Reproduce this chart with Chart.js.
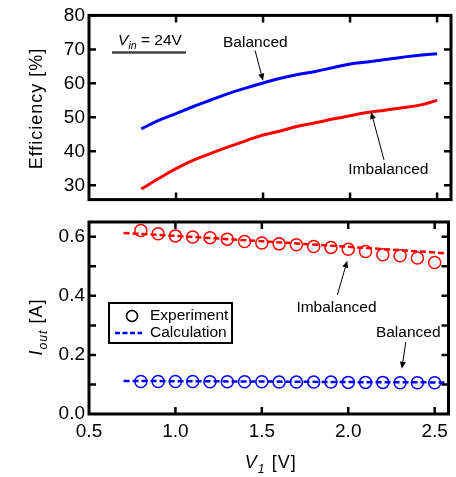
<!DOCTYPE html>
<html>
<head>
<meta charset="utf-8">
<script src="https://cdn.jsdelivr.net/npm/chart.js@4.4.1/dist/chart.umd.min.js"></script>
<style>
body { margin: 0; background: #fff; }
#wrap { position: relative; width: 456px; height: 477px; }
canvas { position: absolute; left: 0; }
#effChart { top: 0; }
#ioutChart { top: 200px; }
</style>
</head>
<body>
<div id="wrap">
  <canvas id="effChart" width="456" height="215"></canvas>
  <canvas id="ioutChart" width="456" height="277"></canvas>
</div>
<script>
// Measured points, V1 in volts
const v1 = [0.8, 0.9, 1.0, 1.1, 1.2, 1.3, 1.4, 1.5, 1.6, 1.7, 1.8, 1.9, 2.0, 2.1, 2.2, 2.3, 2.4, 2.5];
const effBalanced = [46.6, 49.1, 51.1, 53.2, 55.1, 57.0, 58.6, 60.1, 61.5, 62.6, 63.5, 64.6, 65.7, 66.3, 67.0, 67.7, 68.3, 68.7];
const effImbalanced = [28.9, 32.0, 34.9, 37.4, 39.4, 41.3, 43.1, 44.8, 46.0, 47.4, 48.4, 49.5, 50.5, 51.4, 52.1, 52.8, 53.6, 55.0];
const ioutExpImbalanced = [0.621, 0.610, 0.603, 0.599, 0.597, 0.592, 0.584, 0.579, 0.576, 0.573, 0.567, 0.564, 0.558, 0.550, 0.539, 0.536, 0.528, 0.513];
const ioutExpBalanced = [0.110, 0.110, 0.110, 0.110, 0.109, 0.109, 0.109, 0.109, 0.108, 0.108, 0.108, 0.108, 0.107, 0.107, 0.107, 0.106, 0.106, 0.106];

// Calculated curves
const calcV1 = [0.7, 1.0, 1.5, 2.0, 2.5, 2.6];
const ioutCalcImbalanced = [0.613, 0.603, 0.585, 0.566, 0.547, 0.542];
const ioutCalcBalanced = [0.112, 0.111, 0.110, 0.108, 0.107, 0.106];

// Axes
const xTicks = [0.5, 1.0, 1.5, 2.0, 2.5];
const xMarks = [1.0, 1.5, 2.0, 2.5];
const effTicks = [30, 40, 50, 60, 70, 80];
const ioutTicks = [0.0, 0.2, 0.4, 0.6];
const ioutMarks = [0.1, 0.2, 0.3, 0.4, 0.5, 0.6];

const FONT = '"Liberation Sans", Arial, sans-serif';
Chart.defaults.font.family = FONT;
Chart.defaults.color = '#000';

const pts = (xs, ys) => xs.map((x, i) => ({ x, y: ys[i] }));

// draw text made of plain / italic / subscript pieces
function richWidth(ctx, parts, size) {
  let w = 0;
  parts.forEach(p => {
    ctx.font = (p.it ? 'italic ' : '') + (p.sub ? size * 0.68 : size) + 'px ' + FONT;
    w += ctx.measureText(p.t).width;
  });
  return w;
}
function drawRich(ctx, parts, x, y, size) {
  parts.forEach(p => {
    ctx.font = (p.it ? 'italic ' : '') + (p.sub ? size * 0.68 : size) + 'px ' + FONT;
    ctx.fillText(p.t, x, y + (p.sub ? size * 0.28 : 0));
    x += ctx.measureText(p.t).width;
  });
}

function arrow(ctx, x1, y1, x2, y2) {
  const ang = Math.atan2(y2 - y1, x2 - x1);
  const hl = 7, hw = 3;
  ctx.beginPath();
  ctx.moveTo(x1, y1);
  ctx.lineTo(x2 - hl * Math.cos(ang), y2 - hl * Math.sin(ang));
  ctx.stroke();
  ctx.beginPath();
  ctx.moveTo(x2, y2);
  ctx.lineTo(x2 - hl * Math.cos(ang) + hw * Math.sin(ang), y2 - hl * Math.sin(ang) - hw * Math.cos(ang));
  ctx.lineTo(x2 - hl * Math.cos(ang) - hw * Math.sin(ang), y2 - hl * Math.sin(ang) + hw * Math.cos(ang));
  ctx.closePath();
  ctx.fill();
}

// frame, inward ticks, axis titles, labels, arrows, legend
const framePlugin = {
  id: 'frame',
  afterDraw(chart, args, opts) {
    const { ctx, chartArea: a, scales: { x, y } } = chart;
    ctx.save();
    ctx.strokeStyle = '#000';
    ctx.fillStyle = '#000';

    ctx.lineWidth = 2.5;
    ctx.beginPath();
    opts.xMarks.forEach(v => {
      const px = x.getPixelForValue(v);
      ctx.moveTo(px, a.bottom); ctx.lineTo(px, a.bottom - 7);
      ctx.moveTo(px, a.top); ctx.lineTo(px, a.top + 7);
    });
    opts.yMarks.forEach(v => {
      const py = y.getPixelForValue(v);
      ctx.moveTo(a.left, py); ctx.lineTo(a.left + 7, py);
      ctx.moveTo(a.right, py); ctx.lineTo(a.right - 7, py);
    });
    ctx.stroke();
    ctx.lineWidth = 3;
    ctx.strokeRect(a.left, a.top, a.right - a.left, a.bottom - a.top);

    // y title, rotated
    ctx.textBaseline = 'alphabetic';
    ctx.textAlign = 'left';
    ctx.letterSpacing = '1px';
    const yt = opts.yTitle;
    const yw = richWidth(ctx, yt.parts, 18);
    ctx.save();
    ctx.translate(42, (a.top + a.bottom) / 2 + yt.shift);
    ctx.rotate(-Math.PI / 2);
    drawRich(ctx, yt.parts, -yw / 2, 0, 18);
    ctx.restore();

    if (opts.xTitle) {
      const xw = richWidth(ctx, opts.xTitle, 18);
      drawRich(ctx, opts.xTitle, (a.left + a.right) / 2 - xw / 2 + 2, a.bottom + 54, 18);
    }
    ctx.letterSpacing = '0px';

    // annotations in data coordinates
    (opts.notes || []).forEach(n => {
      drawRich(ctx, n.parts, x.getPixelForValue(n.at[0]), y.getPixelForValue(n.at[1]), 15.5);
    });
    ctx.lineWidth = 1;
    (opts.arrows || []).forEach(r => {
      arrow(ctx, x.getPixelForValue(r[0]), y.getPixelForValue(r[1]),
        x.getPixelForValue(r[2]), y.getPixelForValue(r[3]));
    });
    (opts.rules || []).forEach(r => {
      ctx.strokeStyle = '#444';
      ctx.lineWidth = 2.5;
      ctx.beginPath();
      ctx.moveTo(x.getPixelForValue(r[0]), y.getPixelForValue(r[2]));
      ctx.lineTo(x.getPixelForValue(r[1]), y.getPixelForValue(r[2]));
      ctx.stroke();
    });

    if (opts.legend) {
      const lx = a.left + 20, ly = a.top + 81;
      ctx.strokeStyle = '#000';
      ctx.lineWidth = 2;
      ctx.strokeRect(lx, ly, 123, 40);
      ctx.lineWidth = 1.5;
      ctx.beginPath();
      ctx.arc(lx + 23, ly + 13, 5.5, 0, Math.PI * 2);
      ctx.stroke();
      ctx.strokeStyle = '#0000ff';
      ctx.lineWidth = 2.5;
      ctx.setLineDash([5, 2.5]);
      ctx.beginPath();
      ctx.moveTo(lx + 6, ly + 30); ctx.lineTo(lx + 33, ly + 30);
      ctx.stroke();
      ctx.setLineDash([]);
      ctx.textBaseline = 'middle';
      ctx.font = '15.5px ' + FONT;
      ctx.fillText('Experiment', lx + 41, ly + 13);
      ctx.fillText('Calculation', lx + 41, ly + 30);
    }
    ctx.restore();
  }
};

const yAxis = (min, max, ticks, fmt) => ({
  min, max,
  afterFit: s => { s.width = 89; },
  afterBuildTicks: s => { s.ticks = ticks.map(v => ({ value: v })); },
  grid: { display: false, drawTicks: false },
  border: { display: false },
  ticks: { padding: 4, autoSkip: false, font: { size: 19 }, callback: fmt }
});

new Chart(document.getElementById('effChart'), {
  type: 'line',
  data: {
    datasets: [
      { data: pts(v1, effBalanced), borderColor: '#0000ff', borderWidth: 3, pointRadius: 0, tension: 0.4 },
      { data: pts(v1, effImbalanced), borderColor: '#ff0000', borderWidth: 3, pointRadius: 0, tension: 0.4 }
    ]
  },
  options: {
    responsive: false, animation: false, devicePixelRatio: 1,
    layout: { padding: { top: 13, right: 5, bottom: 8, left: 0 } },
    plugins: {
      legend: { display: false }, tooltip: { enabled: false },
      frame: {
        xMarks, yMarks: effTicks,
        yTitle: { parts: [{ t: 'Efficiency [%]' }], shift: 1 },
        notes: [
          { parts: [{ t: 'V', it: true }, { t: 'in', it: true, sub: true }, { t: ' = 24V' }], at: [0.667, 71.3] },
          { parts: [{ t: 'Balanced' }], at: [1.27, 70.8] },
          { parts: [{ t: 'Imbalanced' }], at: [1.99, 33.4] }
        ],
        arrows: [[1.454, 69.7, 1.5, 60.8], [2.195, 37.5, 2.121, 51.6]],
        rules: [[0.632, 1.057, 69.1]]
      }
    },
    scales: {
      x: { type: 'linear', min: 0.5, max: 2.58, display: false },
      y: yAxis(25.8, 80, effTicks, v => v)
    }
  },
  plugins: [framePlugin]
});

new Chart(document.getElementById('ioutChart'), {
  type: 'line',
  data: {
    datasets: [
      { data: pts(v1, ioutExpImbalanced), showLine: false, pointRadius: 6, pointBorderWidth: 1.5,
        pointBorderColor: '#ff0000', pointBackgroundColor: 'rgba(0,0,0,0)' },
      { data: pts(v1, ioutExpBalanced), showLine: false, pointRadius: 6, pointBorderWidth: 1.5,
        pointBorderColor: '#0000ff', pointBackgroundColor: 'rgba(0,0,0,0)' },
      { data: pts(calcV1, ioutCalcImbalanced), borderColor: '#ff0000', borderWidth: 2.5, borderDash: [6, 3], pointRadius: 0 },
      { data: pts(calcV1, ioutCalcBalanced), borderColor: '#0000ff', borderWidth: 2.5, borderDash: [6, 3], pointRadius: 0 }
    ]
  },
  options: {
    responsive: false, animation: false, devicePixelRatio: 1,
    layout: { padding: { top: 22, right: 5, bottom: 0, left: 0 } },
    plugins: {
      legend: { display: false }, tooltip: { enabled: false },
      frame: {
        xMarks, yMarks: ioutMarks,
        yTitle: { parts: [{ t: 'I', it: true }, { t: 'out', it: true, sub: true }, { t: ' [A]' }], shift: 9 },
        xTitle: [{ t: 'V', it: true }, { t: '1', it: true, sub: true }, { t: ' [V]' }],
        notes: [
          { parts: [{ t: 'Imbalanced' }], at: [1.70, 0.346] },
          { parts: [{ t: 'Balanced' }], at: [2.16, 0.261] }
        ],
        arrows: [[1.937, 0.403, 1.994, 0.519], [2.333, 0.244, 2.31, 0.153]],
        legend: true
      }
    },
    scales: {
      x: {
        type: 'linear', min: 0.5, max: 2.58,
        afterFit: s => { s.height = 63; },
        afterBuildTicks: s => { s.ticks = xTicks.map(v => ({ value: v })); },
        grid: { display: false, drawTicks: false },
        border: { display: false },
        ticks: { padding: 6, autoSkip: false, maxRotation: 0, font: { size: 19 }, callback: v => v.toFixed(1) }
      },
      y: yAxis(0, 0.65, ioutTicks, v => v.toFixed(1))
    }
  },
  plugins: [framePlugin]
});
</script>
</body>
</html>
